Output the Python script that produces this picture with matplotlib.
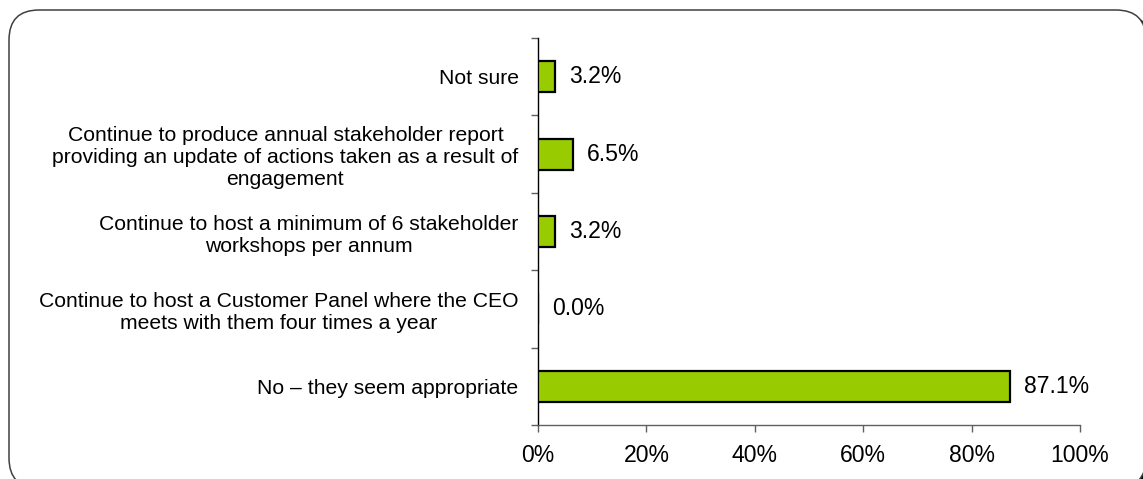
import matplotlib
matplotlib.use("Agg")
import matplotlib.pyplot as plt
from matplotlib.patches import FancyBboxPatch
from matplotlib.ticker import FuncFormatter, FixedLocator

plt.rcParams['font.family'] = ['Liberation Sans', 'DejaVu Sans']

categories = [
    "No \u2013 they seem appropriate",
    "Continue to host a Customer Panel where the CEO\nmeets with them four times a year",
    "Continue to host a minimum of 6 stakeholder\nworkshops per annum",
    "Continue to produce annual stakeholder report\nproviding an update of actions taken as a result of\nengagement",
    "Not sure",
]
values = [87.1, 0.0, 3.2, 6.5, 3.2]
xticks = [0, 20, 40, 60, 80, 100]

W, H = 1143, 479
fig = plt.figure(figsize=(W / 100, H / 100), dpi=100)

# background frame axes in pixel units
bg = fig.add_axes([0, 0, 1, 1], zorder=0)
bg.set_xlim(0, W)
bg.set_ylim(H, 0)
bg.axis('off')
shadow = FancyBboxPatch((14, 15), 1137, 478, boxstyle="round,pad=0,rounding_size=30",
                        facecolor='black', edgecolor='black', linewidth=1)
frame = FancyBboxPatch((9, 10), 1137, 478, boxstyle="round,pad=0,rounding_size=30",
                       facecolor='white', edgecolor='#404040', linewidth=1.1)
bg.add_patch(shadow)
bg.add_patch(frame)

ax = fig.add_axes([538 / W, 1 - 425 / H, (1080 - 538) / W, (425 - 38) / H], zorder=1)
ax.patch.set_alpha(0)
y = list(range(len(categories)))
ax.barh(y, values, height=0.4, color='#99CC00', edgecolor='black', linewidth=1.6, zorder=3)
for yi, v in zip(y, values):
    ax.annotate(f"{v:.1f}%", (v, yi), xytext=(14, 0), textcoords='offset pixels',
                va='center', ha='left', fontsize=16.6, color='black')

ax.set_xlim(0, 100)
ax.set_ylim(-0.5, len(categories) - 0.5)
ax.xaxis.set_major_locator(FixedLocator(xticks))
ax.xaxis.set_major_formatter(FuncFormatter(lambda v, p: f"{v:.0f}%"))
ax.tick_params(axis='x', direction='out', length=5, width=1, color='#606060',
               labelsize=16.6, pad=9)

ax.set_yticks([i - 0.5 for i in range(len(categories) + 1)])
ax.set_yticklabels([])
ax.set_yticks(y, minor=True)
ax.set_yticklabels(categories, minor=True, fontsize=15.2, linespacing=1.2,
                   multialignment='center')
ax.tick_params(axis='y', which='major', direction='out', length=5, width=1, color='#606060')
ax.tick_params(axis='y', which='minor', length=0, pad=14)

for s in ['top', 'right']:
    ax.spines[s].set_visible(False)
ax.spines['left'].set_color('black')
ax.spines['left'].set_linewidth(1)
ax.spines['bottom'].set_color('#606060')
ax.spines['bottom'].set_linewidth(1)

fig.savefig('out.png', dpi=100)
